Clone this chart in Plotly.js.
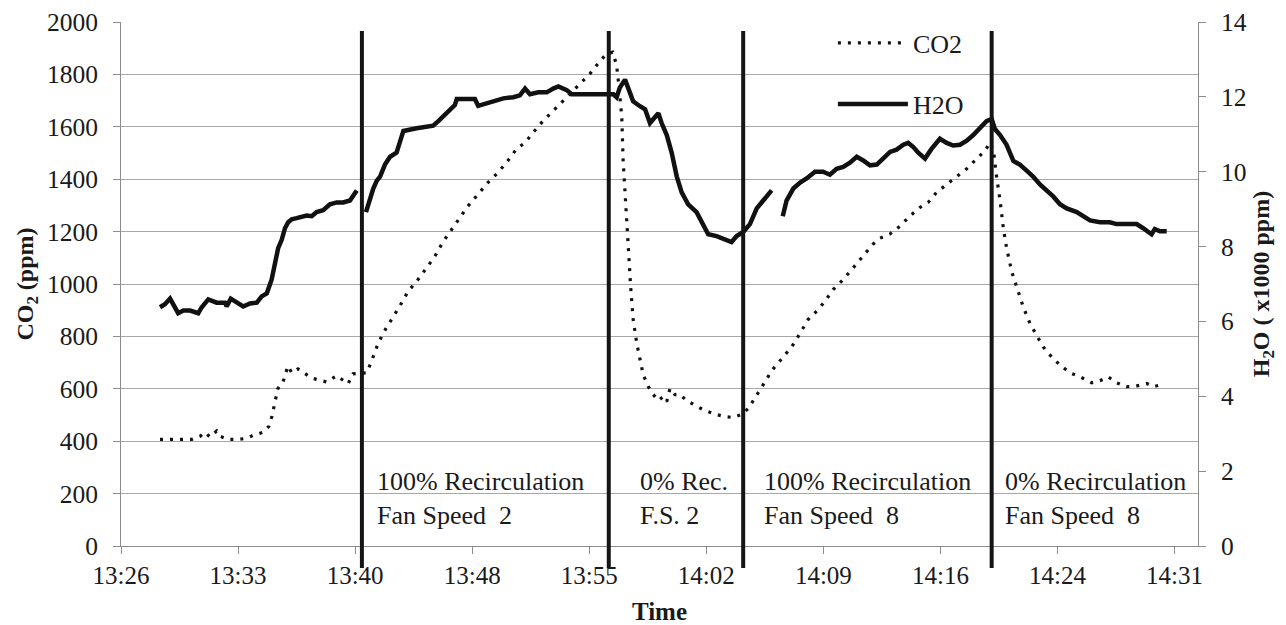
<!DOCTYPE html>
<html>
<head>
<meta charset="utf-8">
<script src="https://cdn.plot.ly/plotly-3.0.1.min.js"></script>
<style>
  html, body { margin: 0; padding: 0; background: #fff; }
  #chart { width: 1286px; height: 625px; }
</style>
</head>
<body>
<div id="chart"></div>
<script>
// ---- data: times are seconds after 13:00:00 ----
const co2Sec = [1728,1771,1808,1845,1876,1894,1912,1937,1949,1979,
2016,2048,2071,2108,2130,2141,2152,2163,2181,2200,
2214,2237,2288,2343,2380,2422,2440,2491,2509,2528,
2551,2583,2614,2643,2680,2712,2743,2772,2804,2835,
2864,2901,2938,2975,3012,3044,3075,3104,3141,3178,
3215,3252,3289,3315,3344,3376,3399,3413,3422,3432,
3437,3447,3456,3465,3474,3487,3499,3511,3530,3548,
3567,3585,3598,3610,3628,3647,3671,3702,3733,3770,
3806,3843,3874,3899,3923,3954,3985,4028,4059,4090,
4120,4151,4182,4212,4249,4286,4323,4360,4385,4422,
4459,4495,4532,4563,4594,4631,4668,4705,4742,4772,
4791,4805,4813,4828,4840,4852,4871,4889,4914,4938,
4963,4987,5018,5049,5086,5123,5166,5197,5227,5258,
5295,5332,5369,5393,5424];
const co2Ppm = [407,407,407,407,419,434,416,439,419,407,
407,411,422,434,457,495,548,601,623,687,
661,676,641,626,650,619,657,661,707,760,
812,865,918,971,1017,1062,1107,1160,1206,1251,
1297,1342,1387,1425,1471,1516,1539,1577,1622,1660,
1698,1735,1773,1803,1841,1879,1885,1834,1750,1637,
1471,1289,1138,986,865,775,714,654,608,578,
555,570,551,601,578,578,555,536,520,505,
495,490,502,525,563,616,669,722,760,812,
865,896,934,979,1017,1062,1107,1153,1175,1191,
1221,1259,1292,1312,1350,1380,1410,1440,1478,1508,
1540,1501,1425,1319,1213,1138,1047,986,911,850,
805,760,722,691,661,646,623,631,646,623,
608,611,620,608,616];

const h2oSec = [1728,1746,1765,1783,1795,1814,1839,1869,1882,1906,
1937,1968,1974,1989,2017,2035,2060,2085,2103,2122,
2140,2152,2164,2177,2189,2201,2214,2232,2251,2269,
2288,2306,2330,2355,2380,2404,2429,2441,2454,2470,
2488,2503,2515,2528,2540,2558,2577,2601,2614,2626,
2675,2736,2755,2780,2798,2816,2823,2890,2902,2933,
2958,2995,3032,3056,3075,3093,3124,3155,3179,3198,
3229,3247,3289,3352,3401,3413,3425,3444,3456,3474,
3499,3518,3536,3548,3567,3579,3598,3616,3635,3653,
3677,3708,3727,3751,3782,3813,3837,3856,3880,3905,
3930,3954,3985,4005,4026,4040,4065,4090,4114,4145,
4175,4200,4225,4249,4274,4299,4323,4348,4373,4397,
4422,4446,4471,4489,4508,4526,4551,4575,4606,4631,
4655,4680,4705,4729,4754,4778,4797,4809,4828,4852,
4877,4901,4926,4950,4975,5000,5024,5049,5074,5111,
5135,5160,5197,5233,5258,5307,5332,5356,5387,5399,
5418,5443];
const h2oK = [6.38,6.46,6.61,6.38,6.22,6.29,6.29,6.22,6.38,6.59,
6.50,6.50,6.40,6.61,6.46,6.40,6.48,6.50,6.67,6.75,
7.12,7.54,7.96,8.18,8.49,8.65,8.73,8.76,8.81,8.83,
8.81,8.92,8.97,9.13,9.18,9.18,9.23,9.34,9.50,null,
8.92,9.30,9.55,9.76,9.87,10.19,10.40,10.51,10.77,11.09,
11.16,11.23,11.35,11.51,11.65,11.78,11.94,11.94,11.76,11.83,
11.90,11.96,11.99,12.04,12.22,12.07,12.12,12.12,12.22,12.28,
12.18,12.07,12.07,12.07,12.07,11.99,12.25,12.46,12.25,11.88,
11.75,11.67,11.30,11.41,11.56,11.30,10.98,10.51,9.87,9.45,
9.13,8.92,8.65,8.33,8.28,8.18,8.12,8.28,8.39,8.60,
9.02,9.23,9.50,null,8.81,9.23,9.55,9.71,9.82,10.00,
10.00,9.92,10.08,10.13,10.24,10.40,10.30,10.17,10.19,10.35,
10.53,10.59,10.72,10.77,10.66,10.51,10.35,10.61,10.88,10.77,
10.70,10.72,10.83,10.98,11.16,11.35,11.41,11.14,10.98,10.72,
10.29,10.19,10.03,9.87,9.66,9.50,9.34,9.13,9.02,8.92,
8.81,8.70,8.65,8.65,8.60,8.60,8.60,8.49,8.33,8.47,
8.41,8.41];

// event (phase change) times, seconds after 13:00
const eventSec = [2473, 3384, 3880, 4797];
// phase label texts and their start times
const phaseLine1 = ['100% Recirculation', '0% Rec.', '100% Recirculation', '0% Recirculation'];
const phaseLine2 = ['Fan Speed\u00a0 2', 'F.S. 2', 'Fan Speed\u00a0 8', 'Fan Speed\u00a0 8'];
const phaseSec = [2521, 3492, 3949, 4839];

// axis settings (Excel-style: 0.005 day steps)
const axisStart = '2013-01-01 13:26:24';
const axisEnd = '2013-01-01 14:32:38.4';
const tickStepMs = 432000;

// ---- helpers ----
function pad(n) { return (n < 10 ? '0' : '') + n; }
function toDate(s) {
  const h = 13 + Math.floor(s / 3600);
  const m = Math.floor((s % 3600) / 60);
  const sec = s % 60;
  return '2013-01-01 ' + pad(h) + ':' + pad(m) + ':' + pad(sec);
}

const FONT = 'Liberation Serif';
const TXT = '#1a1a1a';
const GRID = '#a8a8a8';
const AX = '#8c8c8c';

const traces = [
  {
    x: co2Sec.map(toDate), y: co2Ppm, name: 'CO2', type: 'scatter', mode: 'lines',
    line: { color: '#111', width: 3.2, dash: '3px,7px' },
    legend: 'legend', yaxis: 'y'
  },
  {
    x: h2oSec.map(toDate), y: h2oK, name: 'H2O', type: 'scatter', mode: 'lines',
    line: { color: '#111', width: 4.5 }, connectgaps: false,
    legend: 'legend2', yaxis: 'y2'
  }
];

const shapes = eventSec.map(s => ({
  type: 'line', xref: 'x', yref: 'paper',
  x0: toDate(s), x1: toDate(s), y0: -0.042, y1: 0.983,
  line: { color: '#151515', width: 4 }
}));

const annotations = phaseSec.map((s, i) => ({
  xref: 'x', yref: 'paper', x: toDate(s), y: 0.0907,
  xanchor: 'left', yanchor: 'middle', align: 'left', showarrow: false,
  text: phaseLine1[i] + '<br>' + phaseLine2[i],
  font: { family: FONT, size: 26, color: TXT }
}));

const layout = {
  width: 1286, height: 625,
  margin: { l: 121, r: 88, t: 22, b: 79 },
  paper_bgcolor: '#fff', plot_bgcolor: '#fff',
  font: { family: FONT, size: 25, color: TXT },
  showlegend: true,
  xaxis: {
    type: 'date', range: [axisStart, axisEnd],
    tick0: axisStart, dtick: tickStepMs, tickformat: '%H:%M',
    ticks: 'outside', ticklen: 7, tickcolor: AX, tickwidth: 1,
    showline: true, linecolor: AX, linewidth: 1,
    showgrid: false, zeroline: false,
    tickfont: { family: FONT, size: 25, color: TXT },
    title: { text: '<b>Time</b>', font: { family: FONT, size: 25, color: TXT }, standoff: 14 }
  },
  yaxis: {
    range: [0, 2000], dtick: 200, tick0: 0,
    ticks: 'outside', ticklen: 7, tickcolor: AX,
    showline: true, linecolor: AX, linewidth: 1,
    showgrid: true, gridcolor: GRID, gridwidth: 1, zeroline: false,
    tickfont: { family: FONT, size: 25.5, color: TXT },
    ticklabelstandoff: 10,
    title: { text: '<b>CO<sub>2</sub> (ppm)</b>', font: { family: FONT, size: 24, color: TXT }, standoff: 6 }
  },
  yaxis2: {
    overlaying: 'y', side: 'right',
    range: [0, 14], dtick: 2, tick0: 0,
    ticks: 'outside', ticklen: 7, tickcolor: AX,
    showline: true, linecolor: AX, linewidth: 1,
    showgrid: false, zeroline: false,
    tickfont: { family: FONT, size: 25.5, color: TXT },
    ticklabelstandoff: 10,
    title: { text: '<b>H<sub>2</sub>O ( x1000 ppm)</b>', font: { family: FONT, size: 24, color: TXT }, standoff: 6 }
  },
  legend: {
    x: 0.661, y: 0.960, xanchor: 'left', yanchor: 'middle',
    bgcolor: 'rgba(0,0,0,0)', borderwidth: 0, itemwidth: 70,
    font: { family: FONT, size: 26, color: TXT }
  },
  legend2: {
    x: 0.661, y: 0.8435, xanchor: 'left', yanchor: 'middle',
    bgcolor: 'rgba(0,0,0,0)', borderwidth: 0, itemwidth: 70,
    font: { family: FONT, size: 26, color: TXT }
  },
  shapes: shapes,
  annotations: annotations
};

Plotly.newPlot('chart', traces, layout, { displayModeBar: false, staticPlot: true });
</script>
</body>
</html>
